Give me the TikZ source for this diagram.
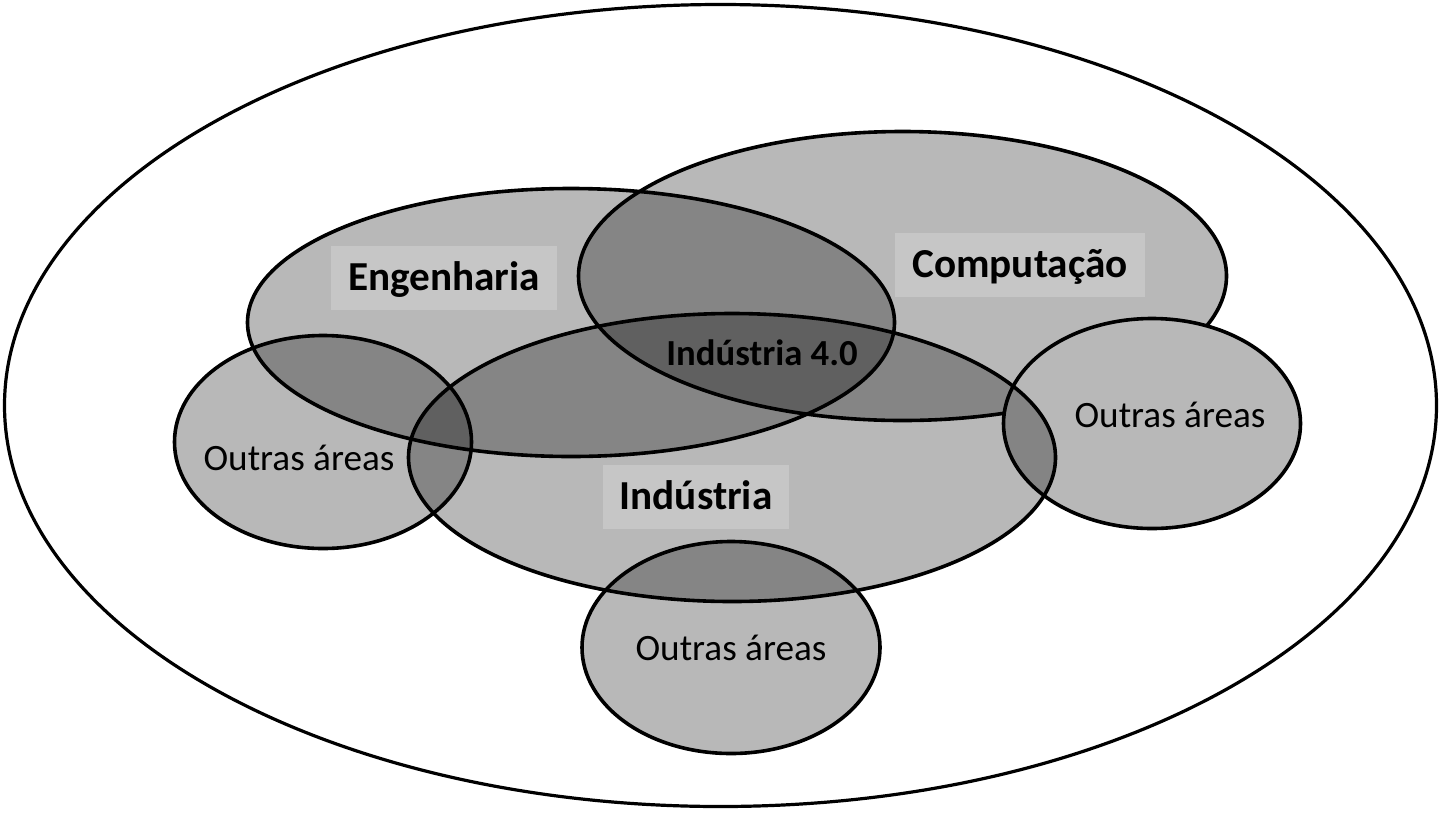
\documentclass[tikz,border=0pt]{standalone}
\usepackage{fontspec}
\setmainfont{Carlito}
\usepackage{tikz}
\usetikzlibrary{shapes.geometric}
\definecolor{areagray}{HTML}{B8B8B8}
\definecolor{boxgray}{HTML}{C6C6C6}

\begin{document}
\begin{tikzpicture}[
  x=1pt, y=-1pt,
  campo/.style={ellipse, draw, line width=3.6pt, fill=black,
    fill opacity=0.28, inner sep=0pt},
  campofull/.style={ellipse, draw, line width=3.6pt, fill=areagray,
    inner sep=0pt},
  rotulo/.style={fill=boxgray, anchor=base, inner xsep=17pt, inner ysep=0pt,
    text height=44pt, text depth=20pt,
    font=\fontsize{41.2}{49}\selectfont\bfseries},
  outras/.style={anchor=base, inner sep=0pt,
    font=\fontsize{37.2}{45}\selectfont}
]
  \useasboundingbox (0,0) rectangle (1442,812);

  % Outer ellipse
  \node[ellipse, draw, line width=3.2pt, inner sep=0pt,
    minimum width=1432pt, minimum height=802pt] (todo) at (720.5,405.5) {};

  % Areas
  \node[campo, minimum width=648pt, minimum height=289pt] (comp) at (902.5,276) {};
  \node[campofull, minimum width=297pt, minimum height=210pt] (outdir) at (1152,423.5) {};
  \node[campo, minimum width=647pt, minimum height=268pt] (eng) at (571,322.5) {};
  \node[campo, minimum width=647pt, minimum height=288pt] (ind) at (732,457.5) {};
  \node[campo, minimum width=297pt, minimum height=213pt] (outesq) at (323,442) {};
  \node[campo, minimum width=298pt, minimum height=212pt] (outbaixo) at (731,647.5) {};

  % Labels
  \node[rotulo] (lbleng) at (444,290) {Engenharia};
  \node[rotulo] (lblcomp) at (1020,277) {Computação};
  \node[rotulo] (lblind) at (696,509) {Indústria};
  \node[anchor=base, inner sep=0pt, font=\fontsize{36.7}{44}\selectfont\bfseries]
    (lblind4) at (762,365) {Indústria 4.0};
  \node[outras] (lblesq) at (299,470) {Outras áreas};
  \node[outras] (lbldir) at (1170,427) {Outras áreas};
  \node[outras] (lblbaixo) at (731,660) {Outras áreas};
\end{tikzpicture}
\end{document}
